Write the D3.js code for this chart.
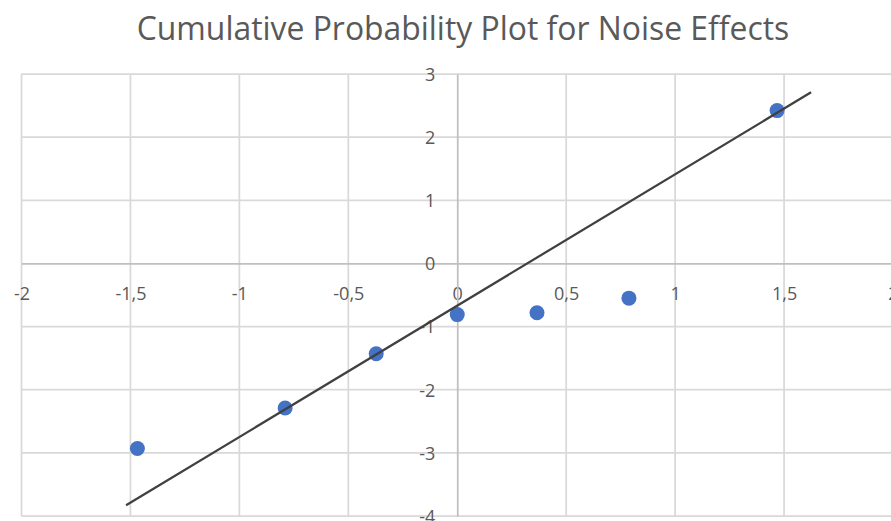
<!DOCTYPE html>
<html>
<head>
<meta charset="utf-8">
<script src="https://cdn.jsdelivr.net/npm/d3@7"></script>
<style>
  html, body { margin: 0; padding: 0; background: #fff; }
  svg { display: block; }
</style>
</head>
<body>
<svg id="chart" width="891" height="521"></svg>
<script>
// ---- data ----
const title = "Cumulative Probability Plot for Noise Effects";
const xValues = [-1.468, -0.79, -0.372, 0, 0.366, 0.788, 1.468];
const yValues = [-2.93, -2.29, -1.43, -0.81, -0.78, -0.55, 2.42];
const trendX = [-1.52, 1.624];
const trendY = [-3.83, 2.71];
const xTicks = [-2, -1.5, -1, -0.5, 0, 0.5, 1, 1.5, 2];
const yTicks = [-4, -3, -2, -1, 0, 1, 2, 3];

// ---- layout ----
const svg = d3.select("#chart");
const x = d3.scaleLinear().domain([-2, 2]).range([21.5, 893]);
const y = d3.scaleLinear().domain([-4, 3]).range([516, 74]);
const fmt = d => String(d).replace(".", ",");
const labelFont = "'Open Sans', 'Segoe UI', sans-serif";

// gridlines
const grid = svg.append("g");
grid.selectAll("line.v").data(xTicks.filter(d => d !== 0)).join("line")
  .attr("x1", d => x(d)).attr("x2", d => x(d))
  .attr("y1", y(3)).attr("y2", y(-4))
  .attr("stroke", "#d9d9d9").attr("stroke-width", 1.75);
grid.selectAll("line.h").data(yTicks.filter(d => d !== 0)).join("line")
  .attr("x1", x(-2)).attr("x2", x(2))
  .attr("y1", d => y(d)).attr("y2", d => y(d))
  .attr("stroke", "#d9d9d9").attr("stroke-width", 1.75);

// axes through origin
const xAxis = svg.append("g").attr("transform", `translate(0,${y(0)})`)
  .call(d3.axisBottom(x).tickValues(xTicks).tickSize(0).tickPadding(0).tickFormat(fmt));
xAxis.select(".domain").attr("stroke", "#bfbfbf").attr("stroke-width", 1.75);
xAxis.selectAll("text").attr("dy", null).attr("y", 37)
  .attr("font-family", labelFont).attr("font-size", 18).attr("fill", "#595959");

const yAxis = svg.append("g").attr("transform", `translate(${x(0)},0)`)
  .call(d3.axisLeft(y).tickValues(yTicks).tickSize(0).tickPadding(0).tickFormat(fmt));
yAxis.select(".domain").attr("stroke", "#bfbfbf").attr("stroke-width", 1.75);
yAxis.selectAll("text").attr("x", -22).attr("dy", "0.35em")
  .attr("font-family", labelFont).attr("font-size", 18).attr("fill", "#595959");

// points
svg.append("g").selectAll("circle").data(xValues.map((v, i) => [v, yValues[i]])).join("circle")
  .attr("cx", d => x(d[0])).attr("cy", d => y(d[1])).attr("r", 7.5)
  .attr("fill", "#4472c4");

// trend line
svg.append("path")
  .datum(trendX.map((v, i) => [v, trendY[i]]))
  .attr("d", d3.line().x(d => x(d[0])).y(d => y(d[1])))
  .attr("stroke", "#404040").attr("stroke-width", 2.25).attr("fill", "none");

// title
const t = svg.append("text").text(title)
  .attr("x", 463).attr("y", 40).attr("text-anchor", "middle")
  .attr("font-family", labelFont).attr("font-size", 26).attr("fill", "#595959");
const w = t.node().getComputedTextLength();
t.attr("font-size", 26 * 653 / w);
</script>
</body>
</html>
